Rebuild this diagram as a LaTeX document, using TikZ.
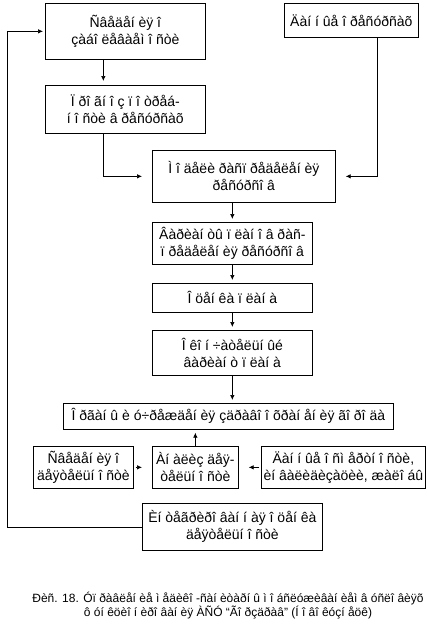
\documentclass[tikz,border=0pt]{standalone}
\usepackage{fontspec}
\setmainfont{Liberation Sans}
\usetikzlibrary{arrows.meta}

\tikzset{
  blk/.style={draw, line width=0.7pt, align=center, inner sep=0pt, anchor=north west,
    font=\fontsize{14}{17}\selectfont},
  arr/.style={line width=0.7pt, -{Latex[length=5pt,width=4.5pt]}},
  gap/.style={shorten >=10pt}
}

\begin{document}
\begin{tikzpicture}[x=1pt,y=-1pt]
    \useasboundingbox (0,0) rectangle (427,637);

    % Blocs du haut
    \node[blk, minimum width=160, minimum height=56] (zab) at (45,3) {Ñâåäåí èÿ î\\çàáî ëåâàåì î ñòè};
    \node[blk, minimum width=134, minimum height=34] (res) at (284,3) {Äàí í ûå î  ðåñóðñàõ};
    \node[blk, minimum width=160, minimum height=48] (prog) at (45,85) {Ï ðî ãí î ç ï î òðåá-\\í î ñòè â ðåñóðñàõ};

    % Colonne centrale
    \node[blk, minimum width=183, minimum height=52] (mod) at (152,150) {Ì î äåëè ðàñï ðåäåëåí èÿ\\ðåñóðñî â};
    \node[blk, minimum width=160, minimum height=42] (var) at (152,222) {Âàðèàí òû ï ëàí î â ðàñ-\\ï ðåäåëåí èÿ ðåñóðñî â};
    \node[blk, minimum width=160, minimum height=29] (ots) at (152,283) {Î öåí êà ï ëàí à};
    \node[blk, minimum width=160, minimum height=45] (okon) at (152,330) {Î êî í ÷àòåëüí ûé\\âàðèàí ò ï ëàí à};
    \node[blk, minimum width=330, minimum height=26] (org) at (63,403) {Î ðãàí û è ó÷ðåæäåí èÿ çäðàâî î õðàí åí èÿ ãî ðî äà};

    % Rangée du bas
    \node[blk, minimum width=100, minimum height=42] (sved) at (33,446) {Ñâåäåí èÿ î\\äåÿòåëüí î ñòè};
    \node[blk, minimum width=86, minimum height=42] (anal) at (152,446) {Àí àëèç äåÿ-\\òåëüí î ñòè};
    \node[blk, minimum width=164, minimum height=42] (dan) at (261,446) {Äàí í ûå î  ñì åðòí î ñòè,\\èí âàëèäèçàöèè, æàëî áû};
    \node[blk, minimum width=180, minimum height=47] (integ) at (142,503) {Èí òåãðèðî âàí í àÿ î öåí êà\\äåÿòåëüí î ñòè};

    \coordinate (back) at (7,0);

    % Liaisons
    \draw[arr, shorten >=4pt] ([xshift=-22pt]zab.south) -- ([xshift=-22pt]prog.north);
    \draw[arr, gap] ([xshift=-22pt]prog.south) |- (mod.west);
    \draw[arr, gap] ([xshift=26pt]res.south) |- (mod.east);
    \draw[arr, shorten >=3pt] (mod.south -| var.north) -- (var.north);
    \draw[arr, shorten >=3pt] (var.south) -- (ots.north);
    \draw[arr, shorten >=3pt] (ots.south) -- (okon.north);
    \draw[arr, shorten >=3pt] (okon.south) -- (okon.south |- org.north);
    \draw[arr, shorten >=3pt] (anal.north) -- (anal.north |- org.south);
    \draw[arr, shorten <=2pt, gap] (sved.east) -- (anal.west);
    \draw[arr, shorten <=2pt, gap] (dan.west) -- (anal.east);
    \draw[arr, shorten >=2pt] (integ.west) -- (integ.west -| back) |- (zab.west);

    % Légende
    \node[align=center, font=\fontsize{12}{14}\selectfont] (leg) at (228,606)
      {Ðèñ. 18. Óï ðàâëåí èå ì åäèêî -ñàí èòàðí û ì  î áñëóæèâàí èåì  â óñëî âèÿõ\\
       ô óí êöèî í èðî âàí èÿ ÀÑÓ “Ãî ðçäðàâ” (Í î âî êóçí åöê)};
\end{tikzpicture}
\end{document}
